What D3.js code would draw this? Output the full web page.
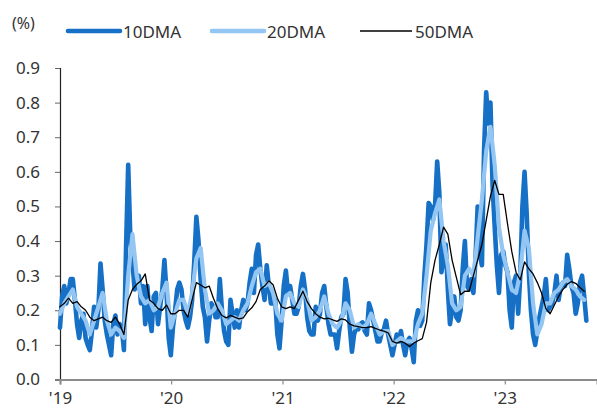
<!DOCTYPE html>
<html>
<head>
<meta charset="utf-8">
<script src="https://cdn.jsdelivr.net/npm/d3@7"></script>
<style>
  body { margin: 0; background: #fff; }
  text { font-family: "Noto Sans", "DejaVu Sans", sans-serif; fill: #333; }
</style>
</head>
<body>
<div id="chart"></div>
<script>
// weekly 10DMA, starts Jan 2019
var dma10 = [
  0.15, 0.24, 0.27, 0.22, 0.25, 0.29, 0.29, 0.23, 0.16, 0.12,
  0.17, 0.19, 0.12, 0.10, 0.085, 0.14, 0.21, 0.15, 0.20, 0.335,
  0.26, 0.17, 0.13, 0.10, 0.07, 0.16, 0.185, 0.13, 0.16, 0.15,
  0.085, 0.38, 0.62, 0.41, 0.34, 0.26, 0.27, 0.30, 0.22, 0.27,
  0.16, 0.27, 0.18, 0.14, 0.24, 0.25, 0.16, 0.21, 0.26, 0.345,
  0.25, 0.12, 0.07, 0.15, 0.20, 0.26, 0.28, 0.26, 0.20, 0.17,
  0.15, 0.18, 0.23, 0.34, 0.47, 0.40, 0.29, 0.21, 0.18, 0.11,
  0.17, 0.22, 0.21, 0.18, 0.18, 0.29, 0.20, 0.14, 0.11, 0.10,
  0.23, 0.19, 0.15, 0.20, 0.15, 0.20, 0.23, 0.20, 0.22, 0.28,
  0.32, 0.25, 0.36, 0.39, 0.32, 0.27, 0.23, 0.33, 0.27, 0.22,
  0.22, 0.23, 0.13, 0.09, 0.17, 0.27, 0.315, 0.25, 0.27, 0.23,
  0.19, 0.19, 0.21, 0.27, 0.305, 0.26, 0.18, 0.14, 0.13, 0.13,
  0.21, 0.17, 0.19, 0.25, 0.27, 0.21, 0.16, 0.13, 0.13, 0.13,
  0.09, 0.14, 0.18, 0.19, 0.29, 0.25, 0.15, 0.08, 0.13, 0.15,
  0.145, 0.16, 0.165, 0.14, 0.13, 0.22, 0.20, 0.17, 0.14, 0.11,
  0.11, 0.135, 0.145, 0.17, 0.13, 0.10, 0.07, 0.10, 0.13, 0.11,
  0.14, 0.10, 0.07, 0.11, 0.12, 0.09, 0.05, 0.17, 0.20, 0.155,
  0.17, 0.30, 0.39, 0.51, 0.50, 0.46, 0.50, 0.63, 0.54, 0.31,
  0.35, 0.39, 0.26, 0.16, 0.20, 0.24, 0.18, 0.17, 0.20, 0.32,
  0.40, 0.27, 0.26, 0.29, 0.25, 0.35, 0.50, 0.36, 0.33, 0.66,
  0.83, 0.74, 0.80, 0.56, 0.44, 0.33, 0.25, 0.36, 0.37, 0.33,
  0.31, 0.20, 0.15, 0.28, 0.30, 0.19, 0.30, 0.50, 0.60, 0.48,
  0.31, 0.20, 0.13, 0.10, 0.14, 0.18, 0.21, 0.24, 0.29, 0.20,
  0.21, 0.22, 0.25, 0.30, 0.23, 0.27, 0.28, 0.27, 0.36, 0.32,
  0.27, 0.25, 0.19, 0.22, 0.28, 0.30, 0.24, 0.17
];

// biweekly 20DMA
var dma20 = [
  0.19, 0.22, 0.24, 0.26, 0.21, 0.19, 0.17, 0.13, 0.17, 0.21,
  0.25, 0.17, 0.13, 0.15, 0.14, 0.12, 0.30, 0.42, 0.30, 0.24,
  0.22, 0.23, 0.20, 0.21, 0.25, 0.28, 0.15, 0.19, 0.23, 0.23,
  0.19, 0.25, 0.35, 0.38, 0.26, 0.19, 0.20, 0.22, 0.20, 0.16,
  0.17, 0.18, 0.17, 0.20, 0.22, 0.27, 0.31, 0.32, 0.27, 0.28,
  0.25, 0.19, 0.17, 0.24, 0.25, 0.22, 0.21, 0.26, 0.23, 0.17,
  0.18, 0.20, 0.24, 0.19, 0.16, 0.15, 0.17, 0.22, 0.20, 0.15,
  0.16, 0.15, 0.16, 0.19, 0.16, 0.13, 0.14, 0.14, 0.10, 0.11,
  0.12, 0.11, 0.11, 0.11, 0.16, 0.19, 0.30, 0.43, 0.48, 0.52,
  0.40, 0.33, 0.22, 0.20, 0.21, 0.30, 0.32, 0.30, 0.41, 0.52,
  0.66, 0.73, 0.62, 0.44, 0.36, 0.31, 0.26, 0.25, 0.31, 0.43,
  0.38, 0.22, 0.13, 0.16, 0.22, 0.22, 0.25, 0.26, 0.28, 0.29,
  0.27, 0.26, 0.24, 0.23
];

// biweekly 50DMA
var dma50 = [
  0.21, 0.22, 0.235, 0.22, 0.225, 0.21, 0.20, 0.18, 0.17, 0.175,
  0.18, 0.17, 0.165, 0.18, 0.16, 0.13, 0.23, 0.26, 0.275, 0.285,
  0.305, 0.23, 0.22, 0.205, 0.20, 0.215, 0.19, 0.19, 0.20, 0.20,
  0.18, 0.23, 0.28, 0.273, 0.265, 0.27, 0.235, 0.205, 0.185, 0.178,
  0.185, 0.18, 0.175, 0.178, 0.196, 0.207, 0.225, 0.26, 0.27, 0.285,
  0.274, 0.235, 0.21, 0.205, 0.21, 0.205, 0.23, 0.255, 0.225, 0.205,
  0.19, 0.18, 0.175, 0.177, 0.172, 0.168, 0.175, 0.172, 0.16, 0.155,
  0.153, 0.15, 0.15, 0.153, 0.148, 0.143, 0.14, 0.135, 0.11, 0.105,
  0.11, 0.105, 0.095, 0.105, 0.112, 0.118, 0.165, 0.28, 0.345, 0.39,
  0.44, 0.42, 0.345, 0.295, 0.245, 0.255, 0.255, 0.30, 0.345, 0.39,
  0.46, 0.53, 0.575, 0.535, 0.535, 0.45, 0.37, 0.31, 0.288, 0.34,
  0.32, 0.305, 0.28, 0.25, 0.205, 0.19, 0.215, 0.24, 0.26, 0.275,
  0.283, 0.278, 0.266, 0.255
];

var seriesNames = ["10DMA", "20DMA", "50DMA"];
var yTicks = [0, 0.1, 0.2, 0.3, 0.4, 0.5, 0.6, 0.7, 0.8, 0.9];
var xTickYears = [2019, 2020, 2021, 2022, 2023];
var xTickLabels = ["'19", "'20", "'21", "'22", "'23"];

var svgWidth = 597;
var svgHeight = 409;
var margin = { top: 68, right: 0, bottom: 29.5, left: 60 };
var chartWidth = svgWidth - margin.left - margin.right;
var chartHeight = svgHeight - margin.top - margin.bottom;

var start = new Date(2019, 0, 1);
function weekDate(i, step) {
  return d3.timeDay.offset(start, i * 7 * step);
}

var svg = d3.select("#chart")
  .append("svg")
  .attr("width", svgWidth)
  .attr("height", svgHeight);

var chartGroup = svg.append("g")
  .attr("transform", `translate(${margin.left}, ${margin.top})`);

var xTimeScale = d3.scaleTime()
  .domain([new Date(2019, 0, 1), new Date(2023, 9, 31)])
  .range([0, chartWidth]);

var yLinearScale = d3.scaleLinear()
  .domain([0, 0.9])
  .range([chartHeight, 0]);

// axes
var leftAxis = chartGroup.append("g")
  .call(d3.axisLeft(yLinearScale)
    .tickValues(yTicks)
    .tickFormat(d3.format(".1f"))
    .tickSize(5)
    .tickPadding(15));
leftAxis.select(".domain").attr("stroke", "#222").attr("stroke-width", 1.2);
leftAxis.selectAll(".tick line").attr("stroke", "#666");
leftAxis.selectAll("text")
  .attr("font-size", "17px")
  .attr("fill", "#333");

var bottomAxis = chartGroup.append("g")
  .attr("transform", `translate(0, ${chartHeight})`)
  .call(d3.axisBottom(xTimeScale)
    .tickValues(xTickYears.map(y => new Date(y, 0, 1)))
    .tickFormat((d, i) => xTickLabels[i])
    .tickSizeOuter(0)
    .tickSize(5)
    .tickPadding(7));
bottomAxis.select(".domain").attr("stroke", "#8c8c8c").attr("stroke-width", 2);
bottomAxis.selectAll(".tick line").attr("stroke", "#8c8c8c").attr("stroke-width", 1.2);
bottomAxis.selectAll("text")
  .attr("font-size", "17px")
  .attr("fill", "#333");

// lines
var styles = [
  { data: dma10, step: 1, color: "#1570c6", width: 4.6 },
  { data: dma20, step: 2, color: "#93c6f2", width: 4.2 },
  { data: dma50, step: 2, color: "#000000", width: 1.3 }
];

styles.forEach(function(s) {
  var drawLine = d3.line()
    .x((d, i) => xTimeScale(weekDate(i, s.step)))
    .y(d => yLinearScale(d));
  chartGroup.append("path")
    .attr("d", drawLine(s.data))
    .attr("fill", "none")
    .attr("stroke", s.color)
    .attr("stroke-width", s.width)
    .attr("stroke-linejoin", "round")
    .attr("stroke-linecap", "round");
});

// unit label and legend
svg.append("text")
  .attr("x", 12)
  .attr("y", 29)
  .attr("font-size", "16px")
  .text("(%)");

var legendX = [68, 212, 360];
seriesNames.forEach(function(name, i) {
  var g = svg.append("g").attr("transform", `translate(${legendX[i]}, 31)`);
  g.append("line")
    .attr("x1", 0).attr("x2", 52)
    .attr("y1", 0).attr("y2", 0)
    .attr("stroke", styles[i].color)
    .attr("stroke-width", i == 2 ? 1.3 : 4.6)
    .attr("stroke-linecap", i == 2 ? "butt" : "round");
  g.append("text")
    .attr("x", 55)
    .attr("y", 6.5)
    .attr("font-size", "17px")
    .text(name);
});
</script>
</body>
</html>
